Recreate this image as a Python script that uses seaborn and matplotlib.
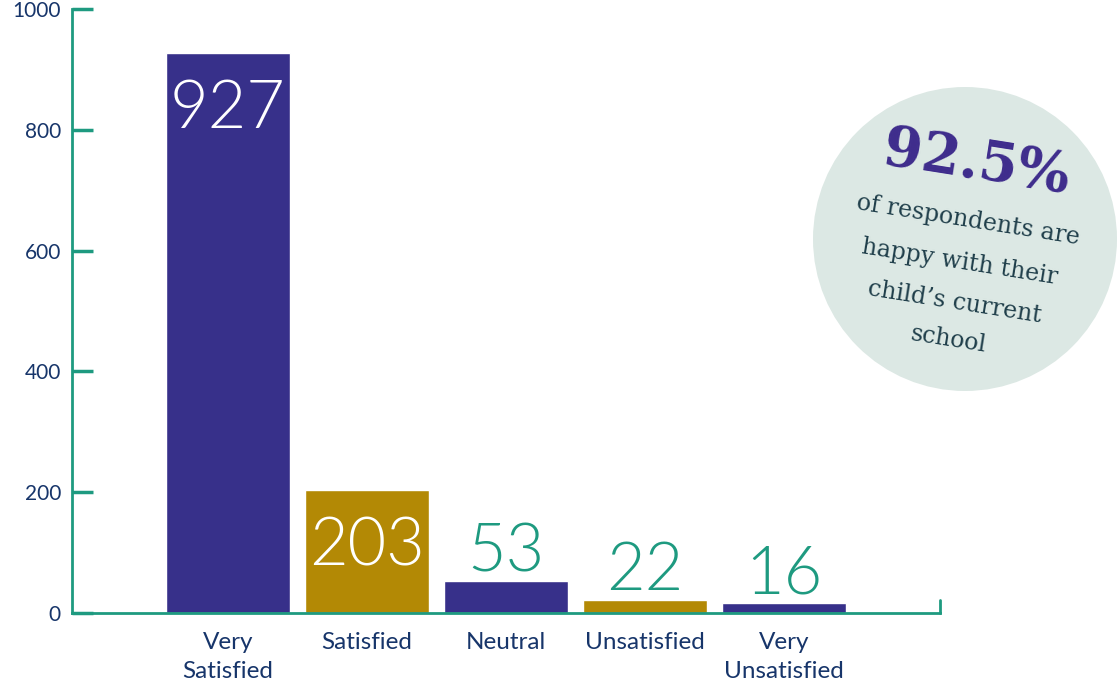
import matplotlib
matplotlib.use("Agg")
import matplotlib.pyplot as plt
import seaborn as sns
import pandas as pd
from matplotlib.patches import Circle

categories = ["Very\nSatisfied", "Satisfied", "Neutral", "Unsatisfied", "Very\nUnsatisfied"]
values = [927, 203, 53, 22, 16]
bar_colors = ["#37308A", "#B38905", "#37308A", "#B38905", "#37308A"]
yticks = [0, 200, 400, 600, 800, 1000]

sns.set_theme(style="white")
plt.rcParams['font.family'] = ['Lato', 'DejaVu Sans']

TEAL = "#1E9A80"
NAVY = "#17356A"

fig = plt.figure(figsize=(11.17, 6.9), dpi=100)
ax = fig.add_axes([72/1117, 77/690, (940-72)/1117, (613-9)/690])

df = pd.DataFrame({"cat": categories, "val": values})
sns.barplot(data=df, x="cat", y="val", hue="cat", palette=bar_colors,
            width=0.89, legend=False, ax=ax, saturation=1)

ax.set_xlim(-1.12, 5.12)
ax.set_ylim(0, 1000)
ax.set_yticks(yticks)
ax.set_yticklabels([str(t) for t in yticks], color=NAVY, fontsize=15)
ax.tick_params(axis="y", left=True, direction="in", length=15, width=2.5,
               color=TEAL, pad=8)
ax.tick_params(axis="x", bottom=False, length=0, pad=14, labelsize=17.5, labelcolor=NAVY)
for lbl in ax.get_xticklabels():
    lbl.set_linespacing(1.45)
ax.set_xlabel("")
ax.set_ylabel("")
for s in ["top", "right"]:
    ax.spines[s].set_visible(False)
for s in ["left", "bottom"]:
    ax.spines[s].set_color(TEAL)
    ax.spines[s].set_linewidth(2)
# right end small tick on x axis
ax.plot([5.12, 5.12], [0, 22], color=TEAL, lw=2, clip_on=False)

for i, v in enumerate(values):
    if v > 100:
        ax.text(i, v - 45, str(v), ha="center", va="top", color="white",
                fontsize=48, fontweight=300)
    else:
        ax.text(i, v + 16, str(v), ha="center", va="baseline", color=TEAL,
                fontsize=48, fontweight=300)

# circle callout
circ = Circle((965, 690 - 239), 152, transform=None, facecolor="#DCE8E4",
              edgecolor="none", zorder=0)
fig.patches.append(circ)
rot = -9
fig.text(976/1117, 1 - 163/690, "92.5%", ha="center", va="center", rotation=rot,
         color="#3E2C8C", fontsize=40, fontweight="bold", family="DejaVu Serif")
lines = ["of respondents are", "happy with their", "child\u2019s current", "school"]
ys = [220, 262, 302, 340]
xs = [968, 960, 955, 948]
for t, x, y in zip(lines, xs, ys):
    fig.text(x/1117, 1 - y/690, t, ha="center", va="center", rotation=rot,
             color="#1F3E4A", fontsize=17, family="DejaVu Serif")

fig.savefig("out.png", dpi=100)
